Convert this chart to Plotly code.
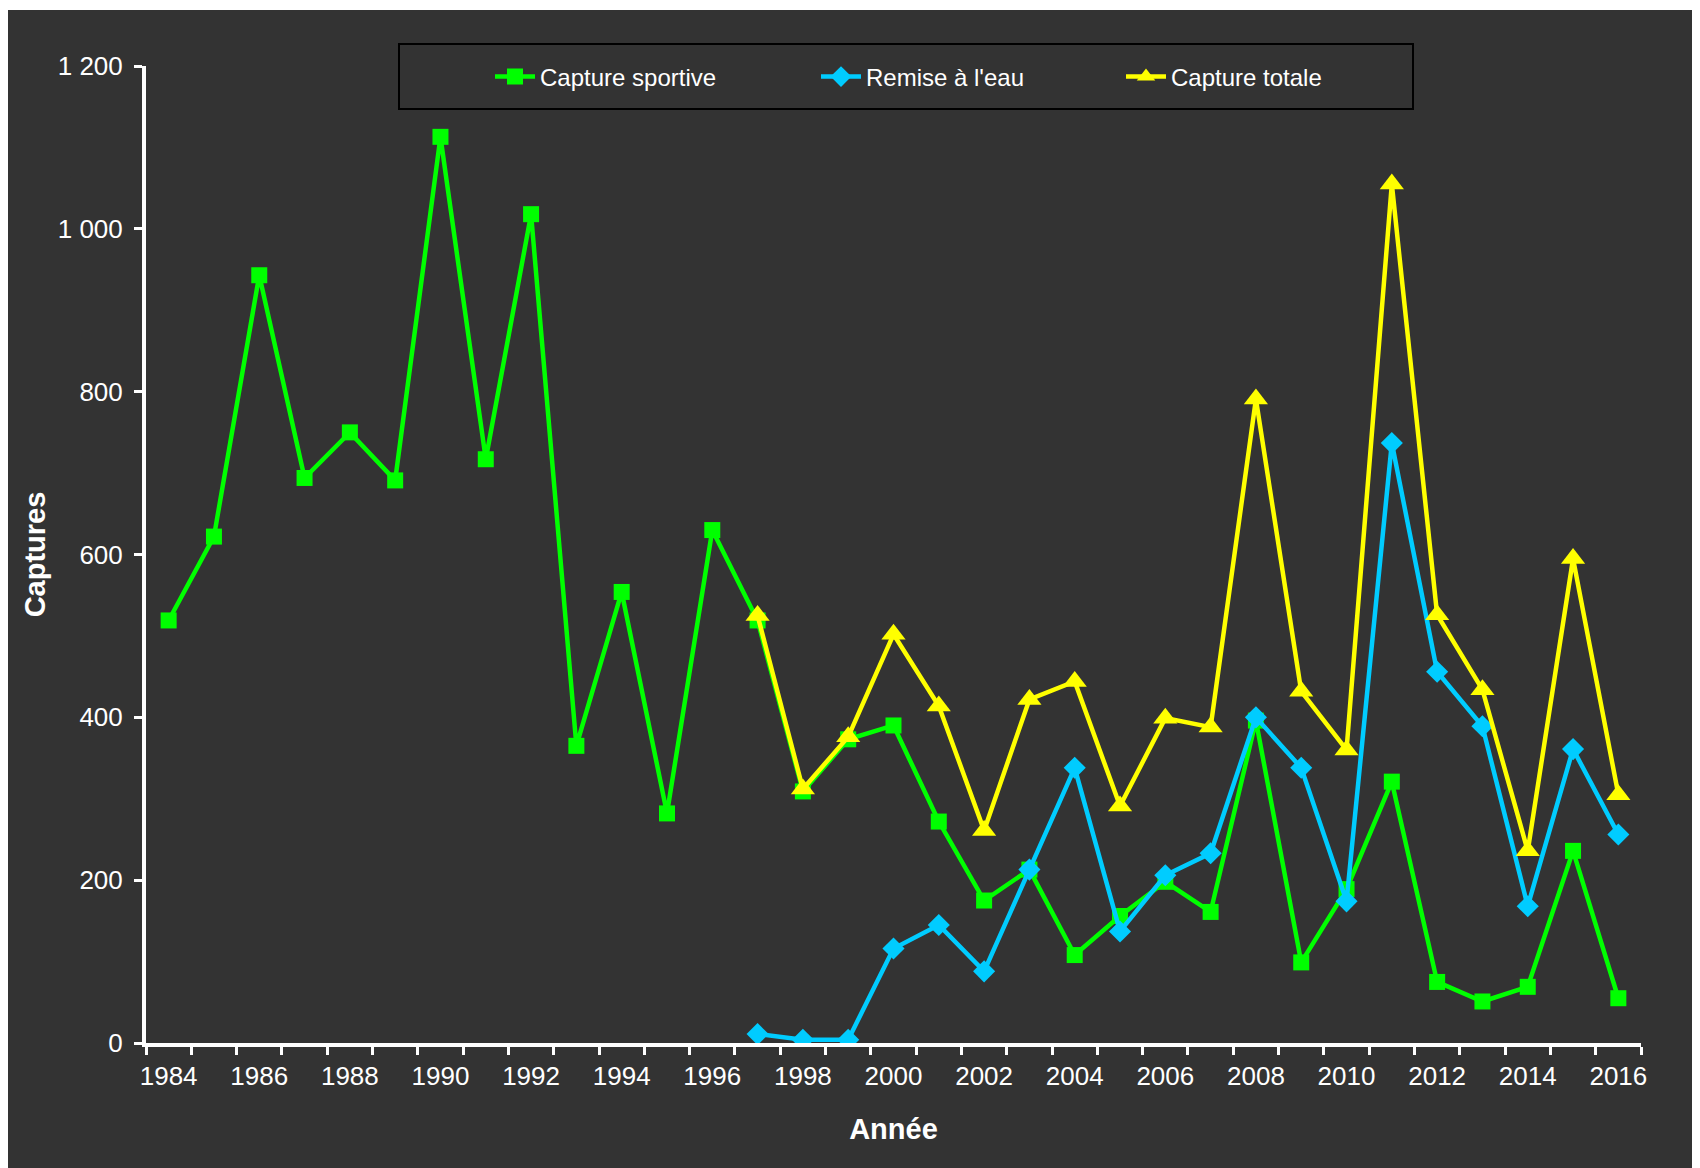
import plotly.graph_objects as go

years = list(range(1984, 2017))
capture_sportive = [519, 622, 943, 694, 750, 691, 1113, 717, 1018, 365, 554, 282, 630,
                    519, 309, 373, 390, 272, 175, 213, 108, 156, 198, 161, 396, 99,
                    189, 321, 75, 51, 69, 236, 55]
remise_years = list(range(1997, 2017))
remise_eau = [11, 4, 4, 116, 145, 88, 213, 338, 137, 206, 233, 400, 338, 174, 737,
              456, 389, 168, 361, 256]
totale_years = list(range(1997, 2017))
capture_totale = [525, 312, 376, 502, 414, 261, 422, 444, 291, 399, 388, 791, 432,
                  360, 1055, 526, 434, 236, 595, 305]
y_ticks = [0, 200, 400, 600, 800, 1000, 1200]
y_ticklabels = ["0", "200", "400", "600", "800", "1 000", "1 200"]
x_ticks = list(range(1984, 2017, 2))
x_ticklabels = [str(y) for y in x_ticks]
x_boundaries = [y - 0.5 for y in years] + [years[-1] + 0.5]

BG = "#333333"
GREEN = "#00FF00"
BLUE = "#00CCFF"
YELLOW = "#FFFF00"
FONT = "Liberation Sans, Arial, sans-serif"

fig = go.Figure()
fig.add_trace(go.Scatter(x=years, y=capture_sportive, name="Capture sportive",
                         mode="lines+markers", legend="legend",
                         line=dict(color=GREEN, width=4.5),
                         marker=dict(symbol="square", size=16, color=GREEN)))
fig.add_trace(go.Scatter(x=remise_years, y=remise_eau, name="Remise à l'eau",
                         mode="lines+markers", legend="legend2",
                         line=dict(color=BLUE, width=4.5),
                         marker=dict(symbol="diamond", size=17, color=BLUE)))
fig.add_trace(go.Scatter(x=totale_years, y=capture_totale, name="Capture totale",
                         mode="lines+markers", legend="legend3",
                         line=dict(color=YELLOW, width=4.5),
                         marker=dict(symbol="triangle-up", size=21, color=YELLOW)))

# page body has an 8px margin: figure coordinates = reference pixel - 8
OFF = 8
W, H = 1692, 1160
L, T = 146 - OFF, 66 - OFF
R = W - (1641 - OFF)
B = H - (1043 - OFF)
pw, ph = W - L - R, H - T - B

def px_x(x):
    return (x - OFF - L) / pw

def px_y(y):
    return (H - B - (y - OFF)) / ph

shapes = [
    dict(type="rect", xref="paper", yref="paper", layer="below",
         x0=px_x(OFF), x1=px_x(1700), y0=px_y(1168), y1=px_y(10),
         fillcolor=BG, line=dict(width=0)),
    dict(type="rect", xref="paper", yref="paper", layer="below",
         x0=px_x(399), x1=px_x(1413), y0=px_y(109), y1=px_y(44),
         fillcolor=BG, line=dict(color="black", width=2)),
]

def leg(symbol_center_px):
    return dict(orientation="h", x=px_x(symbol_center_px - 24), y=px_y(77),
                xanchor="left", yanchor="middle",
                bgcolor="rgba(0,0,0,0)", borderwidth=0,
                font=dict(family=FONT, size=24, color="white"), itemwidth=40)

fig.update_layout(
    width=W, height=H,
    margin=dict(l=L, r=R, t=T, b=B, pad=0),
    paper_bgcolor="white",
    plot_bgcolor="rgba(0,0,0,0)",
    font=dict(family=FONT, color="white", size=26),
    shapes=shapes,
    showlegend=True,
    legend=leg(514),
    legend2=leg(840),
    legend3=leg(1145),
    xaxis=dict(range=[years[0] - 0.5, years[-1] + 0.5],
               tickmode="array", tickvals=x_ticks, ticktext=x_ticklabels,
               ticks="", showgrid=False, zeroline=False,
               showline=True, linecolor="white", linewidth=4,
               ticklabelstandoff=7,
               tickfont=dict(family=FONT, size=26, color="white"),
               minor=dict(tickmode="array", tickvals=x_boundaries, ticks="outside",
                          ticklen=8, tickwidth=3, tickcolor="white", showgrid=False),
               title=dict(text="<b>Année</b>", font=dict(family=FONT, size=29, color="white"),
                          standoff=29)),
    yaxis=dict(range=[0, 1200], tickmode="array", tickvals=y_ticks, ticktext=y_ticklabels,
               ticks="outside", ticklen=8, tickwidth=3, tickcolor="white",
               showgrid=False, zeroline=False,
               showline=True, linecolor="white", linewidth=4,
               ticklabelstandoff=6,
               tickfont=dict(family=FONT, size=26, color="white"),
               title=dict(text="<b>Captures</b>", font=dict(family=FONT, size=29, color="white"),
                          standoff=5)),
)

fig.write_html("out.html")
